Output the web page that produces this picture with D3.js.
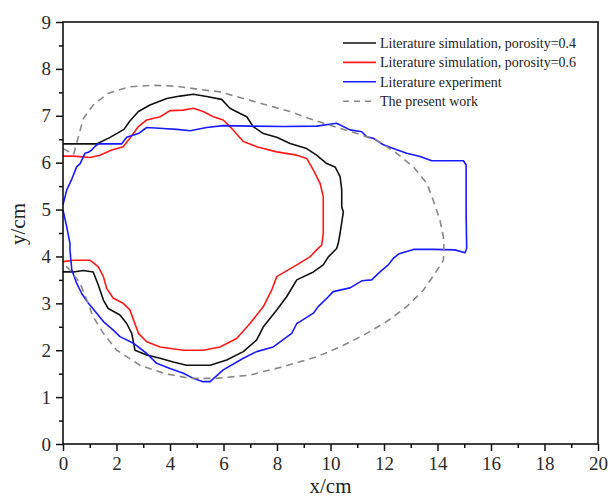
<!DOCTYPE html>
<html>
<head>
<meta charset="utf-8">
<script src="https://cdn.jsdelivr.net/npm/d3@7"></script>
<style>
  body { margin: 0; background: #fff; }
  text { font-family: "Liberation Serif", "Times New Roman", serif; }
</style>
</head>
<body>
<div id="chart"></div>
<script>
// literature simulation, porosity = 0.4  [x, y] in cm
var sim04 = [[0,6.40],[1.26,6.40],[1.76,6.54],[2.28,6.71],[2.50,6.89],[2.82,7.09],[3.25,7.23],[3.88,7.37],[4.37,7.42],[4.87,7.46],[5.37,7.41],[5.93,7.35],[6.24,7.16],[6.62,7.05],[6.87,6.98],[7.11,6.77],[7.49,6.62],[7.99,6.54],[8.49,6.41],[9.11,6.30],[9.48,6.16],[9.86,5.98],[10.17,5.91],[10.36,5.70],[10.42,5.42],[10.42,5.06],[10.48,4.95],[10.36,4.50],[10.29,4.28],[10.23,4.17],[9.92,3.99],[9.73,3.82],[9.36,3.67],[8.74,3.50],[8.36,3.14],[7.99,2.86],[7.49,2.50],[7.24,2.22],[6.74,1.97],[6.12,1.79],[5.50,1.68],[4.62,1.68],[4.12,1.75],[3.63,1.83],[3.13,1.90],[2.69,2.00],[2.57,2.36],[2.38,2.57],[2.13,2.75],[1.69,2.89],[1.51,3.07],[1.32,3.39],[1.13,3.67],[0.76,3.70],[0.39,3.67],[0,3.67]];

// literature simulation, porosity = 0.6
var sim06 = [[0,6.14],[0.39,6.14],[1.01,6.11],[1.38,6.16],[1.82,6.27],[2.25,6.34],[2.50,6.52],[2.82,6.77],[3.13,6.91],[3.63,6.98],[4.00,7.11],[4.50,7.12],[4.87,7.16],[5.24,7.09],[5.62,6.98],[5.99,6.91],[6.31,6.73],[6.74,6.45],[7.24,6.34],[7.99,6.23],[8.74,6.16],[9.11,6.09],[9.36,5.84],[9.61,5.56],[9.73,5.27],[9.73,4.78],[9.73,4.49],[9.67,4.24],[9.48,4.14],[9.23,3.99],[8.74,3.82],[7.99,3.57],[7.80,3.28],[7.49,2.93],[6.99,2.57],[6.49,2.25],[5.87,2.07],[5.24,2.00],[4.50,2.00],[3.63,2.07],[3.13,2.18],[2.82,2.36],[2.50,2.86],[2.25,3.00],[1.88,3.11],[1.63,3.32],[1.51,3.57],[1.32,3.78],[1.01,3.92],[0.39,3.92],[0,3.89]];

// literature experiment
var experiment = [[0,5.10],[0.14,5.42],[0.33,5.65],[0.51,5.91],[0.64,5.98],[0.82,6.20],[0.95,6.22],[1.07,6.27],[1.20,6.35],[1.32,6.40],[2.19,6.40],[2.38,6.54],[2.82,6.62],[3.13,6.75],[3.75,6.73],[4.25,6.71],[4.75,6.68],[5.37,6.75],[5.99,6.79],[6.99,6.78],[8.24,6.77],[9.48,6.78],[10.23,6.84],[10.73,6.70],[11.17,6.66],[11.36,6.55],[11.60,6.52],[11.98,6.38],[12.35,6.30],[12.85,6.20],[13.35,6.13],[13.78,6.04],[14.97,6.04],[15.07,5.95],[15.07,4.92],[15.09,4.17],[15.03,4.08],[14.65,4.14],[13.84,4.15],[13.10,4.15],[12.54,4.05],[12.35,3.96],[12.16,3.82],[11.85,3.67],[11.54,3.50],[11.17,3.48],[10.73,3.33],[10.10,3.25],[9.92,3.14],[9.54,2.93],[9.36,2.79],[8.86,2.61],[8.74,2.57],[8.55,2.36],[7.86,2.07],[7.24,1.97],[6.74,1.83],[5.99,1.58],[5.50,1.33],[5.24,1.33],[4.87,1.40],[4.50,1.51],[4.00,1.61],[3.50,1.72],[3.13,1.93],[2.63,2.15],[2.13,2.29],[1.88,2.43],[1.51,2.61],[1.26,2.79],[0.95,3.00],[0.70,3.21],[0.51,3.43],[0.33,3.71],[0.26,4.14],[0.26,4.28],[0.14,4.63],[0,4.99]];

// the present work
var present = [[0,6.30],[0.40,6.18],[0.55,6.50],[0.76,6.94],[1.13,7.23],[1.69,7.48],[2.50,7.62],[3.38,7.65],[4.25,7.63],[5.12,7.56],[5.87,7.51],[6.74,7.37],[7.61,7.23],[8.49,7.09],[9.36,6.91],[9.98,6.80],[11.00,6.62],[11.73,6.48],[12.47,6.20],[13.10,5.91],[13.60,5.56],[13.84,5.20],[14.09,4.78],[14.22,4.42],[14.24,4.20],[14.22,3.92],[13.91,3.64],[13.47,3.28],[12.85,2.93],[12.10,2.61],[11.23,2.32],[10.36,2.07],[9.48,1.86],[8.24,1.65],[6.99,1.47],[5.75,1.40],[4.75,1.40],[3.75,1.51],[2.88,1.68],[2.01,2.00],[1.51,2.36],[1.13,2.71],[0.89,3.07],[0.64,3.43],[0.26,3.71],[0,3.85]];

var xTicks = [0,2,4,6,8,10,12,14,16,18,20],
    yTicks = [0,1,2,3,4,5,6,7,8,9];

var seriesNames = ["Literature simulation, porosity=0.4", "Literature simulation, porosity=0.6", "Literature experiment", "The present work"],
    seriesColors = ["#111111", "#ff1a1a", "#1a1aff", "#888888"],
    seriesData = [sim04, sim06, experiment, present];

//chart frame dimensions
var chartWidth = 609, chartHeight = 497,
    plotLeft = 63, plotRight = 598, plotTop = 22, plotBottom = 444;

var x = d3.scaleLinear().domain([0, 20]).range([plotLeft, plotRight]);
var y = d3.scaleLinear().domain([0, 9]).range([plotBottom, plotTop]);

var svg = d3.select("#chart")
    .append("svg")
    .attr("width", chartWidth)
    .attr("height", chartHeight);

//minor ticks
svg.append("g")
    .attr("transform", "translate(0," + plotBottom + ")")
    .call(d3.axisBottom(x).tickValues(d3.range(1, 20, 2)).tickSize(4).tickFormat(""))
    .call(function(g) { g.select(".domain").remove(); });
svg.append("g")
    .attr("transform", "translate(" + plotLeft + ",0)")
    .call(d3.axisLeft(y).tickValues(d3.range(0.5, 9, 1)).tickSize(4).tickFormat(""))
    .call(function(g) { g.select(".domain").remove(); });

//major ticks + labels
svg.append("g")
    .attr("transform", "translate(0," + plotBottom + ")")
    .call(d3.axisBottom(x).tickValues(xTicks).tickSize(7).tickSizeOuter(0).tickPadding(6));
svg.append("g")
    .attr("transform", "translate(" + plotLeft + ",0)")
    .call(d3.axisLeft(y).tickValues(yTicks).tickSize(7).tickSizeOuter(0).tickPadding(5));

svg.selectAll(".tick line").attr("stroke", "#111").attr("stroke-width", 1.5);
svg.selectAll(".tick text")
    .style("font-family", "'Liberation Serif', serif")
    .style("font-size", "19px")
    .attr("fill", "#2a2a2a");
svg.selectAll(".domain").remove();

//data lines
var line = d3.line()
    .x(function(d) { return x(d[0]); })
    .y(function(d) { return y(d[1]); });

seriesData.forEach(function(data, i) {
    svg.append("path")
        .datum(data)
        .attr("d", line)
        .attr("fill", "none")
        .attr("stroke", seriesColors[i])
        .attr("stroke-width", 1.6)
        .attr("stroke-linejoin", "round")
        .attr("stroke-dasharray", i == 3 ? "7,5" : null);
});

//frame
svg.append("rect")
    .attr("x", plotLeft)
    .attr("y", plotTop)
    .attr("width", plotRight - plotLeft)
    .attr("height", plotBottom - plotTop)
    .attr("fill", "none")
    .attr("stroke", "#111")
    .attr("stroke-width", 1.6);

//legend
var legend = svg.append("g").attr("transform", "translate(343,43)");
seriesNames.forEach(function(name, i) {
    var row = legend.append("g").attr("transform", "translate(0," + (i * 19.4) + ")");
    row.append("line")
        .attr("x1", 0).attr("x2", 33)
        .attr("stroke", seriesColors[i])
        .attr("stroke-width", 1.6)
        .attr("stroke-dasharray", i == 3 ? "6,5" : null);
    row.append("text")
        .attr("x", 37)
        .attr("dy", "0.35em")
        .style("font-size", "14px")
        .attr("fill", "#222")
        .text(name);
});

//axis titles
svg.append("text")
    .attr("x", (plotLeft + plotRight) / 2)
    .attr("y", 493)
    .style("text-anchor", "middle")
    .style("font-size", "21px")
    .attr("fill", "#222")
    .text("x/cm");

svg.append("text")
    .attr("transform", "rotate(-90)")
    .attr("x", -224)
    .attr("y", 25)
    .style("text-anchor", "middle")
    .style("font-size", "21px")
    .attr("fill", "#222")
    .text("y/cm");
</script>
</body>
</html>
